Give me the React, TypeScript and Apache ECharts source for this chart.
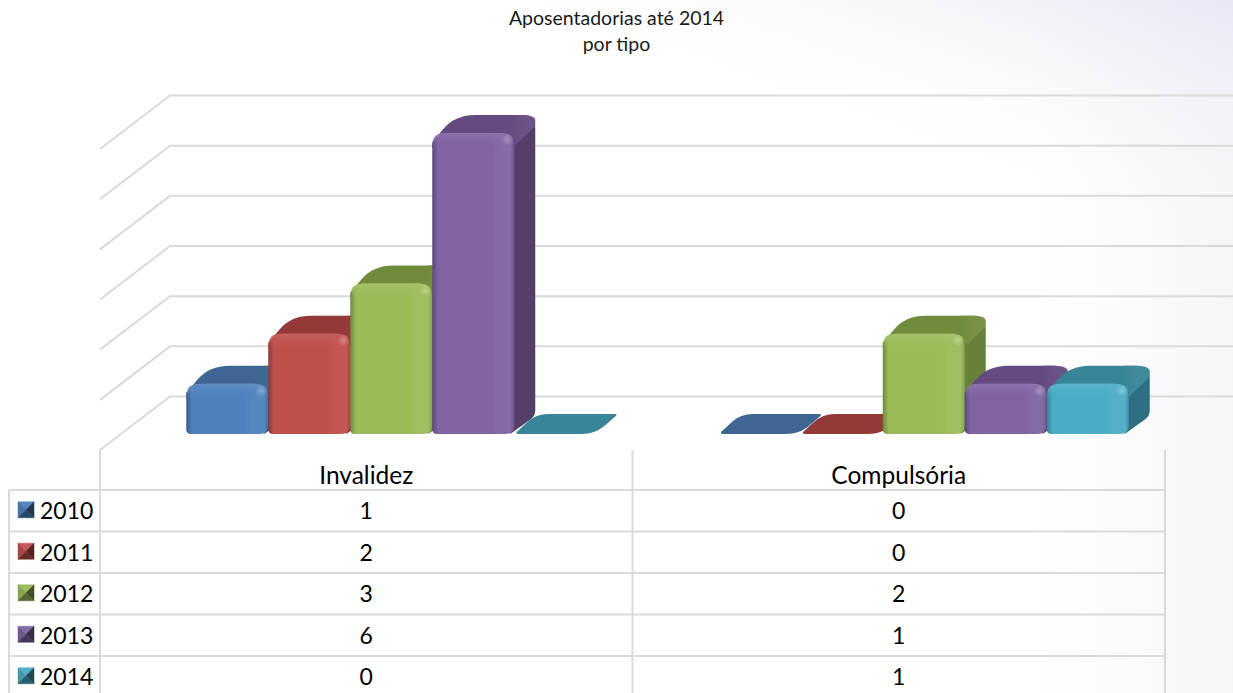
import React, { useEffect, useRef } from "react";
import * as echarts from "echarts";

const titleText = "Aposentadorias até 2014\npor tipo";
const categories = ["Invalidez", "Compulsória"];
const years = ["2010", "2011", "2012", "2013", "2014"];
const invalidez = [1, 2, 3, 6, 0];
const compulsoria = [0, 0, 2, 1, 1];
const wallTicks = [0, 1, 2, 3, 4, 5, 6];

const baseColors = ["#4F81BD", "#C0504D", "#9BBB59", "#8064A2", "#4BACC6"];
const topColors = ["#3F6592", "#933A38", "#718B3C", "#634A80", "#388597"];
const sideColors = ["#35557C", "#7C302E", "#67803A", "#553F68", "#2F6F82"];
const gridColor = "#DADADA";
const FONT = "Lato";

function shade(hex: string, f: number) {
  const n = parseInt(hex.slice(1), 16);
  const c = [(n >> 16) & 255, (n >> 8) & 255, n & 255].map((v) =>
    Math.max(0, Math.min(255, Math.round(f > 1 ? v + (255 - v) * (f - 1) : v * f)))
  );
  return `rgb(${c[0]},${c[1]},${c[2]})`;
}

// polygon points with rounded corners; each corner is [x, y, radius]
function roundPoly(corners: number[][]) {
  const out: number[][] = [];
  const n = corners.length;
  for (let i = 0; i < n; i++) {
    const [x, y, r] = corners[i];
    const p = corners[(i + n - 1) % n];
    const q = corners[(i + 1) % n];
    if (!r) {
      out.push([x, y]);
      continue;
    }
    const lp = Math.hypot(p[0] - x, p[1] - y);
    const lq = Math.hypot(q[0] - x, q[1] - y);
    const rp = Math.min(r, lp / 2);
    const rq = Math.min(r, lq / 2);
    const a = [x + ((p[0] - x) * rp) / lp, y + ((p[1] - y) * rp) / lp];
    const b = [x + ((q[0] - x) * rq) / lq, y + ((q[1] - y) * rq) / lq];
    for (let t = 0; t <= 1.001; t += 1 / 8) {
      const u = 1 - t;
      out.push([u * u * a[0] + 2 * u * t * x + t * t * b[0], u * u * a[1] + 2 * u * t * y + t * t * b[1]]);
    }
  }
  return out;
}

const BAR_W = 82;
const DX = 21;
const DY = 18;
const FLOOR_LIFT = 16;
const GROUP_SHIFT = 25;

function barRenderer(i: number) {
  return (_params: any, api: any) => {
    const cat = api.value(0);
    const val = api.value(1);
    const zero = api.coord([cat, 0]);
    const top = api.coord([cat, val]);
    const x0 = zero[0] + GROUP_SHIFT + (i - 2.5) * BAR_W;
    const x1 = x0 + BAR_W;
    const yB = zero[1] - FLOOR_LIFT;
    const yT = top[1] - FLOOR_LIFT;
    const base = baseColors[i];
    if (val === 0) {
      return {
        type: "polygon",
        shape: {
          points: roundPoly([
            [x0, yB, 5],
            [x0 + DX + 1, yB - DY - 2, 12],
            [x1 + DX + 1, yB - DY - 2, 4],
            [x1 - 1, yB, 14],
          ]),
        },
        style: { fill: topColors[i] },
      };
    }
    const children: any[] = [
      {
        type: "polygon",
        shape: {
          points: roundPoly([
            [x1 - 4, yB, 0],
            [x1 + DX, yB - DY, 6],
            [x1 + DX, yT - DY, 14],
            [x1 - 4, yT - DY, 0],
          ]),
        },
        style: { fill: sideColors[i] },
      },
      {
        type: "polygon",
        shape: {
          points: roundPoly([
            [x0, yT + 9, 0],
            [x0 + DX + 2, yT - DY, 20],
            [x1 + DX, yT - DY, 14],
            [x1 + DX, yT - DY + 11, 0],
            [x1 - 2, yT + 15, 0],
            [x0, yT + 15, 0],
          ]),
        },
        style: {
          fill: new echarts.graphic.LinearGradient(0, 0, 1, 0, [
            { offset: 0, color: topColors[i] },
            { offset: 0.75, color: topColors[i] },
            { offset: 0.88, color: shade(topColors[i], 1.05) },
            { offset: 1, color: shade(topColors[i], 1.05) },
          ]),
        },
      },
      {
        type: "polygon",
        shape: {
          points: roundPoly([
            [x0, yB, 5],
            [x1, yB, 9],
            [x1, yT, 15],
            [x0, yT, 15],
          ]),
        },
        style: {
          fill: new echarts.graphic.LinearGradient(0, 0, 1, 0, [
            { offset: 0, color: shade(base, 0.72) },
            { offset: 0.07, color: base },
            { offset: 0.72, color: base },
            { offset: 0.8, color: shade(base, 1.04) },
            { offset: 0.95, color: shade(base, 1.05) },
            { offset: 1, color: shade(base, 0.86) },
          ]),
        },
      },
      {
        type: "polygon",
        shape: {
          points: roundPoly([
            [x0 + 1, yT + 15, 0],
            [x0 + 1, yT, 14],
            [x1 - 1, yT, 14],
            [x1 - 1, yT + 15, 0],
          ]),
        },
        style: {
          fill: new echarts.graphic.LinearGradient(0, 0, 0, 1, [
            { offset: 0, color: shade(base, 1.1) },
            { offset: 1, color: base + "00" },
          ]),
        },
      },
      {
        type: "circle",
        shape: { cx: x1 - 7, cy: yT + 7, r: 6 },
        style: {
          fill: new echarts.graphic.RadialGradient(0.5, 0.5, 0.5, [
            { offset: 0, color: "rgba(255,255,255,0.28)" },
            { offset: 1, color: "rgba(255,255,255,0)" },
          ]),
        },
      },
    ];
    return { type: "group", children };
  };
}

const W = 1233;
const H = 693;
const GRID_L = 100;
const GRID_R = 1165;
const GRID_T = 149;
const GRID_B = 450;
const TABLE_L = 9;
const TABLE_T = 490;
const ROW_H = 41.5;
const KEY_X = 18;
const KEY_S = 16;

function line(x1: number, y1: number, x2: number, y2: number) {
  return {
    type: "line",
    z: 1,
    shape: { x1, y1, x2, y2 },
    style: { stroke: gridColor, lineWidth: 2 },
  };
}

function tableGraphics() {
  const els: any[] = [
    {
      type: "rect",
      z: -10,
      shape: { x: 0, y: 0, width: W, height: H },
      style: {
        fill: new echarts.graphic.LinearGradient(0, 0, 1, 0, [
          { offset: 0, color: "#FFFFFF" },
          { offset: 0.84, color: "#FFFFFF" },
          { offset: 1, color: "#F6F6FA" },
        ]),
      },
    },
    {
      type: "rect",
      z: -9,
      shape: { x: 0, y: 0, width: W, height: H },
      style: {
        fill: new echarts.graphic.LinearGradient(1, 0, 0.84, 0.26, [
          { offset: 0, color: "rgba(230,232,243,0.95)" },
          { offset: 1, color: "rgba(246,246,250,0)" },
        ]),
      },
    },
  ];
  const band = (GRID_R - GRID_L) / categories.length;
  [GRID_L, GRID_L + band, GRID_R].forEach((x) => els.push(line(x, GRID_B, x, H)));
  els.push(line(TABLE_L, TABLE_T, TABLE_L, H));
  years.forEach((year, i) => {
    const y = TABLE_T + ROW_H * i;
    const cy = y + ROW_H / 2 - 0.5;
    els.push(line(TABLE_L, y, GRID_R, y));
    const kx = KEY_X;
    const ky = cy - 0.5 - KEY_S / 2;
    const mx = kx + KEY_S / 2;
    const my = ky + KEY_S / 2;
    const tl = [kx, ky];
    const tr = [kx + KEY_S, ky];
    const br = [kx + KEY_S, ky + KEY_S];
    const bl = [kx, ky + KEY_S];
    const tri = (a: number[], b: number[], fill: string) => ({
      type: "polygon",
      z: 3,
      shape: { points: [a, b, [mx, my]] },
      style: { fill, stroke: fill, lineWidth: 0.5 },
    });
    els.push(tri(tl, tr, shade(baseColors[i], 1.04)));
    els.push(tri(tl, bl, shade(baseColors[i], 0.88)));
    els.push(tri(tr, br, shade(baseColors[i], 0.42)));
    els.push(tri(bl, br, shade(baseColors[i], 0.55)));
    els.push({
      type: "text",
      z: 3,
      x: 40,
      y: cy,
      style: { text: year, font: `23px ${FONT}`, fill: "#000", textAlign: "left", textVerticalAlign: "middle" },
    });
    [invalidez[i], compulsoria[i]].forEach((v, c) => {
      els.push({
        type: "text",
        z: 3,
        x: GRID_L + band * (c + 0.5),
        y: cy,
        style: { text: String(v), font: `23px ${FONT}`, fill: "#000", textAlign: "center", textVerticalAlign: "middle" },
      });
    });
  });
  return els;
}

export default function App() {
  const ref = useRef<HTMLDivElement>(null);
  useEffect(() => {
    const chart = echarts.init(ref.current!, null, { renderer: "svg" });
    chart.setOption({
      animation: false,
      title: {
        text: titleText,
        left: "center",
        top: -1,
        textStyle: { fontFamily: FONT, fontSize: 19.5, fontWeight: "normal", color: "#1a1a1a", lineHeight: 26 },
      },
      grid: { left: GRID_L, right: W - GRID_R, top: GRID_T, bottom: H - GRID_B },
      xAxis: {
        type: "category",
        data: categories,
        axisLine: { show: false },
        axisTick: { show: false },
        splitLine: { show: false },
        axisLabel: { fontFamily: FONT, fontSize: 24.5, color: "#000", margin: 12 },
      },
      yAxis: {
        type: "value",
        min: 0,
        max: 6,
        interval: 1,
        axisLine: { show: false },
        axisTick: { show: false },
        axisLabel: { show: false },
        splitLine: { show: false },
      },
      graphic: { elements: tableGraphics() },
      series: [
        {
          type: "custom",
          silent: true,
          z: 1,
          data: wallTicks.map((v) => [0, v]),
          encode: { x: 0, y: 1 },
          renderItem: (params: any, api: any) => {
            const y = api.coord([0, api.value(1)])[1];
            const l = params.coordSys.x;
            return {
              type: "polyline",
              shape: {
                points: [
                  [l, y],
                  [l + 70, y - 53.5],
                  [api.getWidth(), y - 53.5],
                ],
              },
              style: { stroke: gridColor, lineWidth: 2, fill: "none" },
            };
          },
        },
        ...years.map((year, i) => ({
          type: "custom",
          name: year,
          z: 2 + i,
          data: [
            [0, invalidez[i]],
            [1, compulsoria[i]],
          ],
          encode: { x: 0, y: 1 },
          renderItem: barRenderer(i),
        })),
      ],
    });
    return () => chart.dispose();
  }, []);
  return <div ref={ref} style={{ position: "absolute", left: 0, top: 0, width: W, height: H }} />;
}
